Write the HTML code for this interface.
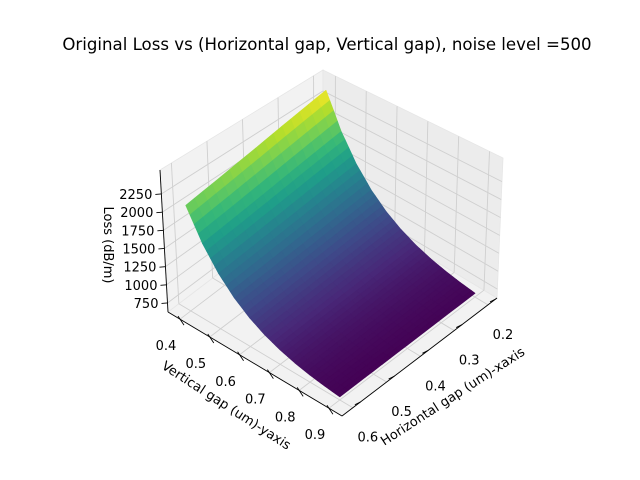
<!DOCTYPE html>
<html><head><meta charset="utf-8">
<style>
html,body{margin:0;padding:0;background:#fff;}
svg{display:block;font-family:"DejaVu Sans","Liberation Sans",sans-serif;}
</style></head>
<body>
<svg id="chart" width="640" height="480" viewBox="0 0 640 480" xmlns="http://www.w3.org/2000/svg">
<rect width="640" height="480" fill="#fff"/>
<text x="327" y="50" font-size="16.6" text-anchor="middle" fill="#000">Original Loss vs (Horizontal gap, Vertical gap), noise level =500</text>
<g id="panes"></g>
<g id="grid"></g>
<g id="surface"></g>
<g id="axes"></g>
<text transform="translate(104,245) rotate(90)" font-size="13" text-anchor="middle">Loss (dB/m)</text>
<text transform="translate(224,409) rotate(33)" font-size="13" text-anchor="middle">Vertical gap (um)-yaxis</text>
<text transform="translate(455,400) rotate(-33)" font-size="13" text-anchor="middle">Horizontal gap (um)-xaxis</text>
</svg>
<script>
const xValues = [0.2, 0.3, 0.4, 0.5, 0.6];
const yValues = [0.4, 0.45, 0.5, 0.55, 0.6, 0.65, 0.7, 0.75, 0.8, 0.85, 0.9];
// lossValues[i][j] : x = xValues[i], y = yValues[j]
const lossValues = [
  [2450, 1935, 1564, 1297, 1104, 966, 866, 795, 743, 706, 679],
  [2349, 1862, 1511, 1259, 1077, 946, 852, 784, 736, 701, 675],
  [2249, 1790, 1460, 1222, 1050, 927, 838, 774, 728, 695, 671],
  [2159, 1725, 1413, 1188, 1026, 910, 826, 765, 722, 690, 668],
  [2080, 1668, 1372, 1159, 1005, 894, 815, 757, 716, 686, 665]
];
const xTicks = [0.2, 0.3, 0.4, 0.5, 0.6];
const yTicks = [0.4, 0.5, 0.6, 0.7, 0.8, 0.9];
const zTicks = [750, 1000, 1250, 1500, 1750, 2000, 2250];

const NS = 'http://www.w3.org/2000/svg';
const BB=[323,194], LB=[168,312], RB=[497,298], FB=[342,416];
const BT=[323,70], LT=[160,170], RT=[503,158], FT=[342,258];
const zMin=626, zMax=2580;
function xf(x){return 0.058+(x-0.2)*2.18;}
function yf(y){return 0.069+(y-0.4)*1.712;}
function zf(z){return (z-zMin)/(zMax-zMin);}
function tri(a,b,c){
  const w=[(1-a)*(1-b),a*(1-b),(1-a)*b,a*b];
  const bot=[BB,LB,RB,FB], top=[BT,LT,RT,FT];
  let p=[0,0];
  for(let k=0;k<4;k++){for(let d=0;d<2;d++){p[d]+=w[k]*(bot[k][d]*(1-c)+top[k][d]*c);}}
  return p;
}
function proj(x,y,z){return tri(xf(x),yf(y),zf(z));}
function mk(tag,attrs,parent){const e=document.createElementNS(NS,tag);for(const k in attrs)e.setAttribute(k,attrs[k]);parent.appendChild(e);return e;}
function pts(a){return a.map(p=>p[0].toFixed(2)+','+p[1].toFixed(2)).join(' ');}

const panes=document.getElementById('panes');
let p1=mk('polygon',{points:pts([BB,LB,FB,RB]),fill:'#f2f2f2',stroke:'#e6e6e6','stroke-width':0.8},panes);


let p2=mk('polygon',{points:pts([BB,LB,LT,BT]),fill:'#f2f2f2',stroke:'#e6e6e6','stroke-width':0.8},panes);


let p3=mk('polygon',{points:pts([BB,RB,RT,BT]),fill:'#ececec',stroke:'#e6e6e6','stroke-width':0.8},panes);



const grid=document.getElementById('grid');
function gl(a,b){const l=mk('line',{x1:a[0],y1:a[1],x2:b[0],y2:b[1],stroke:'#cfcfcf','stroke-width':0.9},grid);

}
xTicks.forEach(t=>{const a=xf(t);gl(tri(a,0,0),tri(a,0,1));gl(tri(a,0,0),tri(a,1,0));});
yTicks.forEach(t=>{const b=yf(t);gl(tri(0,b,0),tri(0,b,1));gl(tri(0,b,0),tri(1,b,0));});
zTicks.forEach(t=>{const c=zf(t);gl(tri(1,0,c),tri(0,0,c));gl(tri(0,0,c),tri(0,1,c));});

const vir=[[68,1,84],[72,40,120],[62,74,137],[49,104,142],[38,130,142],[31,158,137],[53,183,121],[109,205,89],[180,222,44],[253,231,37]];
function cmap(t){t=Math.max(0,Math.min(1,t));const s=t*(vir.length-1);const i=Math.min(vir.length-2,Math.floor(s));const f=s-i;
const c=vir[i].map((v,k)=>Math.round(v+(vir[i+1][k]-v)*f));return 'rgb('+c.join(',')+')';}
let lo=Infinity,hi=-Infinity;lossValues.forEach(r=>r.forEach(v=>{lo=Math.min(lo,v);hi=Math.max(hi,v);}));

const surf=document.getElementById('surface');
const N=4, quads=[];
for(let i=0;i<xValues.length-1;i++)for(let j=0;j<yValues.length-1;j++){
  for(let s=0;s<N;s++)for(let r=0;r<N;r++){
    const pt=(ss,rr)=>{const u=ss/N,v=rr/N;
      const x=xValues[i]+(xValues[i+1]-xValues[i])*u, y=yValues[j]+(yValues[j+1]-yValues[j])*v;
      const z=lossValues[i][j]*(1-u)*(1-v)+lossValues[i+1][j]*u*(1-v)+lossValues[i][j+1]*(1-u)*v+lossValues[i+1][j+1]*u*v;
      return {x,y,z};};
    const c=[pt(s,r),pt(s+1,r),pt(s+1,r+1),pt(s,r+1)];
    const zm=(c[0].z+c[1].z+c[2].z+c[3].z)/4;
    const depth=xf((c[0].x+c[2].x)/2)+yf((c[0].y+c[2].y)/2);
    quads.push({poly:c.map(q=>proj(q.x,q.y,q.z)),zm,depth});
  }
}
quads.sort((a,b)=>a.depth-b.depth);
quads.forEach(q=>{const col=cmap((q.zm-lo)/(hi-lo));
  const e=mk('polygon',{points:pts(q.poly),fill:col,stroke:col,'stroke-width':0.6,'stroke-linejoin':'round'},surf);
  
  });

const ax=document.getElementById('axes');
function line(a,b,nm){const l=mk('line',{x1:a[0],y1:a[1],x2:b[0],y2:b[1],stroke:'#000','stroke-width':0.9},ax);

}
function label(txt,x,y,anchor,nm){const t=mk('text',{x:x,y:y,'font-size':13,'text-anchor':anchor,fill:'#000'},ax);t.textContent=txt;

}
line(tri(1,0,0),tri(1,0,1),'z-axis-line');
line(tri(1,0,0),tri(1,1,0),'y-axis-line');
line(tri(1,1,0),tri(0,1,0),'x-axis-line');
zTicks.forEach(t=>{const p=tri(1,0,zf(t));line(p,[p[0]-6,p[1]+0.5],'z-tick');
  label(String(t),p[0]-9,p[1]+5,'end','z-tick-label');});
yTicks.forEach(t=>{const p=tri(1,yf(t),0);line([p[0]-2,p[1]-3],[p[0]+4,p[1]+6],'y-tick');
  label(t.toFixed(1),p[0]-14,p[1]+31,'middle','y-tick-label');});
xTicks.forEach(t=>{const p=tri(xf(t),1,0);line([p[0]+2,p[1]-3],[p[0]+8,p[1]-6],'x-tick');
  label(t.toFixed(1),p[0]+15,p[1]+34,'middle','x-tick-label');});
</script>
</body></html>
